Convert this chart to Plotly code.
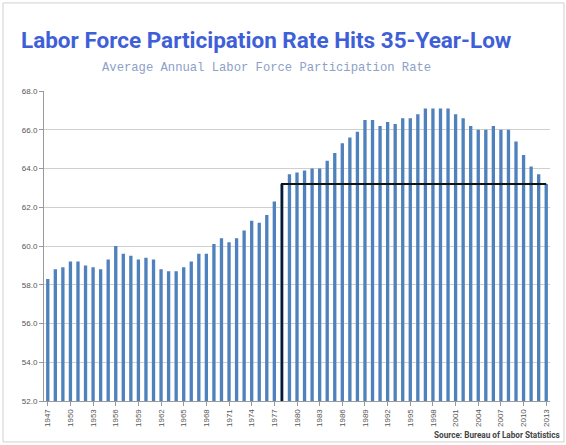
import plotly.graph_objects as go

years = list(range(1947, 2014))
rate = [
    58.3, 58.8, 58.9, 59.2, 59.2, 59.0, 58.9, 58.8, 59.3, 60.0,
    59.6, 59.5, 59.3, 59.4, 59.3, 58.8, 58.7, 58.7, 58.9, 59.2,
    59.6, 59.6, 60.1, 60.4, 60.2, 60.4, 60.8, 61.3, 61.2, 61.6,
    62.3, 63.2, 63.7, 63.8, 63.9, 64.0, 64.0, 64.4, 64.8, 65.3,
    65.6, 65.9, 66.5, 66.5, 66.2, 66.4, 66.3, 66.6, 66.6, 66.8,
    67.1, 67.1, 67.1, 67.1, 66.8, 66.6, 66.2, 66.0, 66.0, 66.2,
    66.0, 66.0, 65.4, 64.7, 64.1, 63.7, 63.2,
]
tick_years = [str(y) for y in years[::3]]
y_min, y_max = 52, 68
low_year = 1978  # the last time the rate was this low

cats = [str(y) for y in years]
i_low = years.index(low_year)

fig = go.Figure()
fig.add_trace(go.Bar(
    x=cats, y=rate,
    marker=dict(color="#4f81bd", line=dict(width=0)),
    hoverinfo="x+y",
))
# black outline: up the 1978 bar, across to 2013
fig.add_trace(go.Scatter(
    x=[cats[i_low], cats[i_low], cats[-1]],
    y=[y_min, rate[i_low], rate[-1]],
    mode="lines",
    line=dict(color="#111111", width=2),
    hoverinfo="skip",
))

fig.update_layout(
    width=566, height=445,
    margin=dict(l=44, r=16, t=91, b=44),
    paper_bgcolor="white",
    plot_bgcolor="white",
    showlegend=False,
    bargap=0.56,
    xaxis=dict(
        type="category",
        tickmode="array",
        tickvals=tick_years,
        ticktext=tick_years,
        tickangle=-90,
        tickfont=dict(family="Liberation Sans, Arial", size=8, color="#555555"),
        ticks="outside", ticklen=4, tickcolor="#999999",
        showline=True, linecolor="#999999", linewidth=1,
        showgrid=False,
        range=[-0.5, len(cats) - 0.5],
    ),
    yaxis=dict(
        range=[y_min, y_max],
        dtick=2,
        tickformat=".1f",
        tickfont=dict(family="Liberation Sans, Arial", size=8, color="#555555"),
        ticks="outside", ticklen=4, tickcolor="#999999",
        showline=True, linecolor="#999999", linewidth=1,
        gridcolor="#cfcfcf", gridwidth=1,
        zeroline=False,
    ),
    annotations=[
        dict(text="<b>Labor Force Participation Rate Hits 35-Year-Low</b>",
             xref="paper", yref="paper", x=0.44, y=1.165,
             xanchor="center", yanchor="middle", showarrow=False,
             font=dict(family="Roboto", size=22.5, color="#3f5fd8")),
        dict(text="Average Annual Labor Force Participation Rate",
             xref="paper", yref="paper", x=0.44, y=1.074,
             xanchor="center", yanchor="middle", showarrow=False,
             font=dict(family="Liberation Mono, Courier New, monospace", size=12.2, color="#8ca0c8")),
        dict(text="<b>Source: Bureau of Labor Statistics</b>",
             xref="paper", yref="paper", x=1.024, y=-0.11,
             xanchor="right", yanchor="middle", showarrow=False,
             font=dict(family="Roboto", size=8.2, color="#444444")),
    ],
    shapes=[
        dict(type="rect", xref="paper", yref="paper",
             x0=-0.081, x1=1.0277, y0=-0.132, y1=1.284,
             line=dict(color="#d0d0d0", width=1), layer="below"),
    ],
)

# the page's default body margin would push the figure 8px off
fig.write_html("out.html", config={"displayModeBar": False},
               post_script="document.body.style.margin='0';")
